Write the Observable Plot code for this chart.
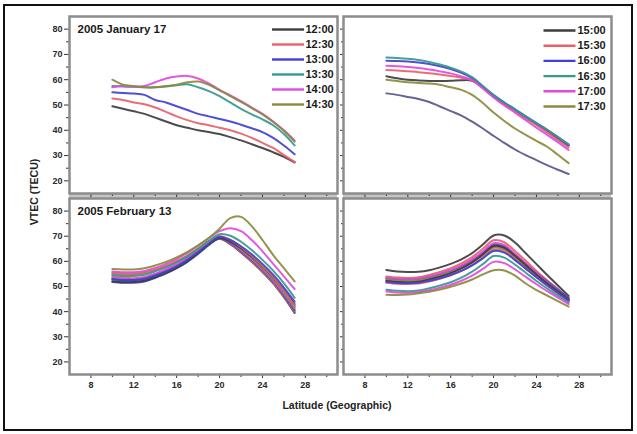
<!DOCTYPE html>
<html><head><meta charset="utf-8">
<script src="https://cdn.jsdelivr.net/npm/d3@7"></script>
<script src="https://cdn.jsdelivr.net/npm/@observablehq/plot@0.6"></script>
<style>
body{margin:0;background:#fff;}
#wrap{position:relative;width:637px;height:434px;overflow:hidden;font-family:"Liberation Sans",Arial,sans-serif;background:#fff;}
#wrap svg{position:absolute;left:0;top:0;}
#border{position:absolute;left:3px;top:4px;width:626px;height:423px;border:2px solid #111;}
.band{position:absolute;top:193px;height:5px;background:#c4c4c4;}
#ylab{position:absolute;left:34px;top:192px;transform:translate(-50%,-50%) rotate(-90deg);font-weight:bold;font-size:10.5px;color:#222;white-space:nowrap;}
#xlab{position:absolute;left:337px;top:405px;transform:translate(-50%,-50%);font-weight:bold;font-size:10.5px;color:#222;white-space:nowrap;}
</style></head>
<body>
<div id="wrap">
  <div class="band" style="left:69px;width:268px"></div>
  <div class="band" style="left:343px;width:268px"></div>
  <div id="border"></div>
  <div id="ylab">VTEC (TECU)</div>
  <div id="xlab">Latitude (Geographic)</div>
</div>
<script>
// ---------- data ----------
const latitudes = [10,11,12,13,14,15,16,17,18,19,20,21,22,23,24,25,26,27];
const lineColors = ["#3d3d3d","#e8606a","#4040d0","#35998f","#e04ae0","#8c8a3c"];
const extraColor = "#58588c";

const titleJan = "2005 January 17";
const titleFeb = "2005 February 13";

// 2005 January 17, 12:00-14:30
const timesJanEarly = ["12:00","12:30","13:00","13:30","14:00","14:30"];
const jan1200 = [49.5,48.5,47.5,46.5,45,43.5,42,41,40,39.3,38.5,37.3,36,34.5,33,31.3,29.5,27.3];
const jan1230 = [52.6,52,51,50.3,49,47.3,45.5,44,42.8,42,41,40,38.7,37,35,33,30.2,27.5];
const jan1300 = [55,54.7,54.5,54,52,51,49.5,48,46.5,45.5,44.5,43.5,42.2,40.8,39.3,37,34,30.5];
const jan1330 = [57.5,57.3,57.2,57,57,57.3,57.8,58.2,57,55.5,53.5,51,48.5,46.3,44.3,42,38.5,34];
const jan1400 = [57,57.5,57.2,57.5,59,60.5,61.3,61.5,60.5,58.5,56,53.8,51.5,49,46.5,43.5,40,36];
const jan1430 = [60,58,57.5,57,57,57.5,58,59,59.3,58,55.8,53.5,51.2,48.8,46.3,43.3,39.8,35.5];

// 2005 January 17, 15:00-17:30
const timesJanLate = ["15:00","15:30","16:00","16:30","17:00","17:30"];
const jan1500 = [61.4,60.6,60,59.7,59.5,59.5,59.6,59.8,59.6,57,53.5,50.6,48,45.2,42.5,39.8,36.8,34];
const jan1530 = [63.8,63.6,63.3,63,62.6,62.1,61.5,60.8,59.8,56.8,53.3,50.3,47.6,44.8,42,39.2,36.2,33.2];
const jan1600 = [67.5,67.4,67.2,66.8,66.2,65.3,64.2,62.7,60.6,57.3,53.8,51,48.3,45.5,42.8,40.2,37.3,34.2];
const jan1630 = [68.8,68.6,68.3,67.8,67,66,64.8,63.2,61,57.5,54,51,48.3,45.5,42.8,40.2,37.3,34.5];
const jan1700 = [65.5,65.3,65,64.6,64,63.3,62.5,61.3,59.8,56.5,53,49.8,47,44,41,38.2,35.3,32.2];
const jan1730 = [60,59.5,59,58.7,58.5,58,57,56,54,50.8,47,43.7,40.7,38.2,35.8,33.5,30.3,27];
const janExtra = [54.6,54,53.2,52.4,51.2,49.4,47.6,45.8,43.4,40.7,37.8,35,32.4,30.2,28.2,26.2,24.4,22.7];

// 2005 February 13, first group of curves
const febEarly = [
  [53,52.5,52.3,52.8,54.2,55.8,57.8,60.3,63.3,66.8,69,66.8,63.5,59.8,55.8,51.3,45.8,39.5],
  [54,53.5,53.3,53.8,55,56.6,58.6,61,64,67.3,69.2,67,63.8,60,56,51.5,46,40],
  [51.8,51.5,51.5,52,53.5,55.2,57.3,59.8,63,66.5,69.3,67.3,64.2,60.5,56.5,52,46.5,40.5],
  [52.5,52,52,52.5,53.8,55.5,57.5,60,63.2,66.8,69.5,67.5,64.5,60.8,56.8,52.3,47,41],
  [53.5,53,53,53.5,55,56.8,58.8,61.2,64.2,67.5,69.5,67.6,64.6,61,57,52.6,47.4,41.6],
  [55,54.7,54.8,55.3,56.5,58,59.8,62,64.8,67.8,69.8,68,65,61.4,57.4,53,47.8,42],
  [52,51.7,51.8,52.3,53.6,55.3,57.4,60,63.2,66.7,69.3,67.8,65.2,61.8,58,53.6,48.5,43],
  [55.5,55.2,55.2,55.7,56.8,58.3,60.2,62.4,65.2,68,70,68.5,65.7,62.2,58.2,53.8,48.3,42.5],
  [53,52.6,52.6,53.1,54.4,56,58,60.6,63.7,67,69.8,68.5,66,62.8,59,54.7,49.6,44],
  [54.5,54.2,54.2,54.7,56,57.6,59.6,62,65,68.2,70.8,70.2,67.8,64.5,60.6,56.3,51.3,45.5],
  [56,55.7,55.7,56.2,57.4,59,61,63.4,66.2,69.3,72,73.2,72,68.5,64,59,54,49],
  [57,56.8,56.8,57.3,58.4,59.8,61.6,63.8,66.4,69.3,73,77.2,77.7,74,68.5,62.5,57.3,52]
];
// 2005 February 13, second group of curves
const febLate = [
  [56.6,56,55.8,55.9,56.5,57.6,59,60.8,63.3,66.7,70.3,70.3,67.5,63.2,58.9,54.6,50.4,46.2],
  [54,53.6,53.4,53.7,54.6,55.8,57.3,59.2,61.7,65,68.4,67.6,64.1,60.2,56.2,52.5,49,45.5],
  [53.3,52.9,52.8,53,53.8,54.9,56.3,58.1,60.4,63.4,66.6,65.9,62.7,59,55.4,52,48.7,45.5],
  [52.5,52.1,52,52.2,53.1,54.2,55.5,57.3,59.7,62.7,65.9,65.2,62,58.4,54.8,51.4,48.2,45],
  [53.5,53.1,52.9,53.2,54.1,55.2,56.6,58.4,60.8,63.9,67.2,66.5,63,59.2,55.3,51.6,48.2,44.8],
  [52.8,52.4,52.3,52.5,53.3,54.4,55.7,57.4,59.6,62.4,65.4,64.7,61.5,57.9,54.3,50.9,47.7,44.5],
  [52.2,51.8,51.6,51.9,52.8,53.9,55.3,57.2,59.6,62.8,66.1,65.4,62.2,58.5,54.8,51.3,48.1,44.8],
  [51.5,51.1,51,51.2,52,53.1,54.5,56.2,58.5,61.5,64.6,64,60.8,57.2,53.7,50.3,47.2,44],
  [51.8,51.4,51.3,51.5,52.3,53.3,54.6,56.2,58.4,61.2,64.1,63.5,60.5,57.1,53.7,50.5,47.5,44.5],
  [48.7,48.3,48.1,48.4,49.3,50.4,51.7,53.5,55.9,58.9,62.1,61.5,58.7,55.5,52.2,49.2,46.4,43.5],
  [48,47.6,47.5,47.8,48.5,49.5,50.7,52.3,54.3,57,59.8,59.3,56.8,53.8,50.9,48.2,45.6,43],
  [46.7,46.6,46.8,47.3,47.9,48.8,49.9,51.2,52.8,54.8,56.5,56.4,54.3,51.2,48.6,46.4,44.2,42]
];

const xDomain = [6, 31];
const yDomain = [15, 85];
const xMajor = [8,12,16,20,24,28];
const xMinor = [10,14,18,22,26,30];
const yMajor = [20,30,40,50,60,70,80];
const yMinor = [25,35,45,55,65,75];

// ---------- build tables ----------
function toRows(seriesList, names, colors) {
  const rows = [];
  seriesList.forEach((vals, i) => {
    vals.forEach((v, j) => rows.push({lat: latitudes[j], vtec: v, series: names[i], color: colors[i]}));
  });
  return rows;
}
const rowsTL = toRows([jan1200,jan1230,jan1300,jan1330,jan1400,jan1430], timesJanEarly, lineColors);
const rowsTR = toRows([janExtra,jan1500,jan1530,jan1600,jan1630,jan1700,jan1730],
  ["extra", ...timesJanLate], [extraColor, ...lineColors]);
const cyc = (n) => Array.from({length: n}, (_, i) => lineColors[i % lineColors.length]);
const rowsBL = toRows(febEarly, febEarly.map((_, i) => "a" + i), cyc(febEarly.length));
const rowsBR = toRows(febLate, febLate.map((_, i) => "b" + i), cyc(febLate.length));

const lineSym = {draw(ctx) { ctx.moveTo(-16, 0); ctx.lineTo(16, 0); }};

function panel({rows, box, yLabels, xLabels, title, legend, legendDx, textDx, legendDy0, legendStep}) {
  const [x0, y0, x1, y1] = box;
  const marks = [];
  marks.push(Plot.axisY({ticks: yMajor, tickSize: yLabels ? 5 : 3, tickPadding: 2,
    tickFormat: yLabels ? (d => d) : (() => ""), stroke: "#333", label: null}));
  marks.push(Plot.axisY({ticks: yMinor, tickSize: yLabels ? 3 : 2,
    tickFormat: () => "", stroke: "#333", label: null}));
  marks.push(Plot.axisX({ticks: xMajor, tickSize: 4, tickPadding: 3,
    tickFormat: xLabels ? (d => d) : (() => ""), stroke: "#333", label: null}));
  marks.push(Plot.axisX({ticks: xMinor, tickSize: 3, tickFormat: () => "", stroke: "#333", label: null}));
  marks.push(Plot.line(rows, {x: "lat", y: "vtec", z: "series", stroke: "color",
    strokeWidth: 2, curve: "catmull-rom", strokeOpacity: 0.92}));
  marks.push(Plot.frame({stroke: "#8c8c8c", strokeWidth: 2.5}));
  if (title) {
    marks.push(Plot.text([title], {text: d => d, frameAnchor: "top-left", dx: 8, dy: 13,
      textAnchor: "start", lineAnchor: "middle", fontSize: 11.5, fontWeight: "bold", fill: "#1a1a1a"}));
  }
  if (legend) {
    legend.forEach((lab, i) => {
      const dy = legendDy0 + legendStep * i;
      marks.push(Plot.dot([lab], {frameAnchor: "top-right", dx: legendDx, dy, symbol: lineSym,
        stroke: lineColors[i], fill: "none", strokeWidth: 2.4, r: 4}));
      marks.push(Plot.text([lab], {text: d => d, frameAnchor: "top-right", dx: textDx, dy,
        textAnchor: "start", lineAnchor: "middle", fontSize: 11, fontWeight: "bold", fill: "#1a1a1a"}));
    });
  }
  return Plot.plot({
    width: 637, height: 434,
    marginLeft: x0, marginRight: 637 - x1, marginTop: y0, marginBottom: 434 - y1,
    x: {domain: xDomain},
    y: {domain: yDomain},
    color: {type: "identity"},
    style: {background: "none", fontFamily: "'Liberation Sans', Arial, sans-serif",
      fontSize: "9px", fontWeight: "bold", color: "#2a2a2a", overflow: "visible"},
    marks
  });
}

const wrap = document.getElementById("wrap");
wrap.appendChild(panel({rows: rowsTL, box: [69,16,337,193], yLabels: true, xLabels: false,
  title: titleJan, legend: timesJanEarly, legendDx: -49.5, textDx: -32, legendDy0: 13, legendStep: 15}));
wrap.appendChild(panel({rows: rowsTR, box: [343,16,611,193], yLabels: false, xLabels: false,
  legend: timesJanLate, legendDx: -52, textDx: -34, legendDy0: 14, legendStep: 15.2}));
wrap.appendChild(panel({rows: rowsBL, box: [69,198,337,374], yLabels: true, xLabels: true,
  title: titleFeb}));
wrap.appendChild(panel({rows: rowsBR, box: [343,198,611,374], yLabels: false, xLabels: true}));
</script>
</body></html>
